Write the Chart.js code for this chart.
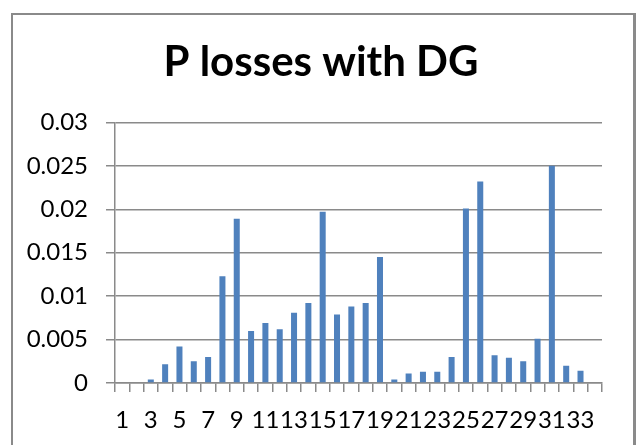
<!DOCTYPE html>
<html>
<head>
<meta charset="utf-8">
<script src="https://cdn.jsdelivr.net/npm/chart.js@4.4.0/dist/chart.umd.min.js"></script>
<style>
  html, body { margin: 0; padding: 0; background: #fff; }
  #wrap { position: relative; width: 637px; height: 445px; overflow: hidden; }
  #frame { position: absolute; left: 11px; top: 13px; width: 620px; height: 460px; border: 2px solid #8a8a8a; border-right-width: 3px; }
  canvas { position: absolute; left: 0; top: 0; }
</style>
</head>
<body>
<div id="wrap">
  <div id="frame"></div>
  <canvas id="chart" width="637" height="445"></canvas>
</div>
<script>
// bus numbers 1..34, losses per bus
const buses = [];
for (let i = 1; i <= 34; i++) buses.push(String(i));
const pLosses = [
  0, 0, 0.0004, 0.00215, 0.0042, 0.0025, 0.0030, 0.0123, 0.0189, 0.0060,
  0.0069, 0.0062, 0.0081, 0.0092, 0.0197, 0.0079, 0.0088, 0.0092, 0.0145, 0.0004,
  0.0011, 0.0013, 0.0013, 0.0030, 0.0201, 0.0232, 0.0032, 0.0029, 0.0025, 0.0051,
  0.0250, 0.0020, 0.0014, 0
];
const yTicks = [0, 0.005, 0.01, 0.015, 0.02, 0.025, 0.03];

const fontFam = "Lato, 'Open Sans', sans-serif";

new Chart(document.getElementById('chart').getContext('2d'), {
  type: 'bar',
  data: {
    labels: buses,
    datasets: [{
      label: 'P losses with DG',
      data: pLosses,
      backgroundColor: '#4f81bd',
      borderWidth: 0,
      barPercentage: 0.42,
      categoryPercentage: 1.0
    }]
  },
  options: {
    responsive: false,
    animation: false,
    layout: { padding: { left: 5, right: 0, top: 0, bottom: 16 } },
    plugins: {
      legend: { display: false },
      tooltip: { enabled: false },
      title: {
        display: true,
        text: 'P losses with DG',
        color: '#000',
        font: { family: fontFam, size: 42, weight: 'bold', lineHeight: 1.2 },
        padding: { top: 37, bottom: 35 }
      }
    },
    scales: {
      x: {
        offset: true,
        grid: { offset: true, drawOnChartArea: false, drawTicks: true, tickLength: 9, color: '#8a8a8a', lineWidth: 1.5 },
        border: { color: '#8a8a8a', width: 1.5 },
        ticks: {
          autoSkip: false,
          maxRotation: 0,
          color: '#000',
          font: { family: fontFam, size: 24 },
          padding: 14,
          callback: function (v, i) { return i % 2 === 0 ? buses[i] : ''; }
        },
        afterFit: function (s) { s.height = 46; }
      },
      y: {
        min: 0,
        max: 0.03,
        afterBuildTicks: function (s) { s.ticks = yTicks.map(v => ({ value: v })); },
        grid: { color: '#8a8a8a', lineWidth: 1.5, tickLength: 9 },
        border: { color: '#8a8a8a', width: 1.5 },
        ticks: {
          color: '#000',
          font: { family: fontFam, size: 24 },
          padding: 18,
          callback: function (v) { return String(+v.toFixed(3)); }
        },
        afterFit: function (s) { s.width = 110; }
      },
      // empty spacer on the right so the plot ends where the original does
      yRight: {
        position: 'right',
        grid: { display: false },
        border: { display: false },
        ticks: { display: false },
        afterFit: function (s) { s.width = 35; }
      }
    }
  }
});
</script>
</body>
</html>
